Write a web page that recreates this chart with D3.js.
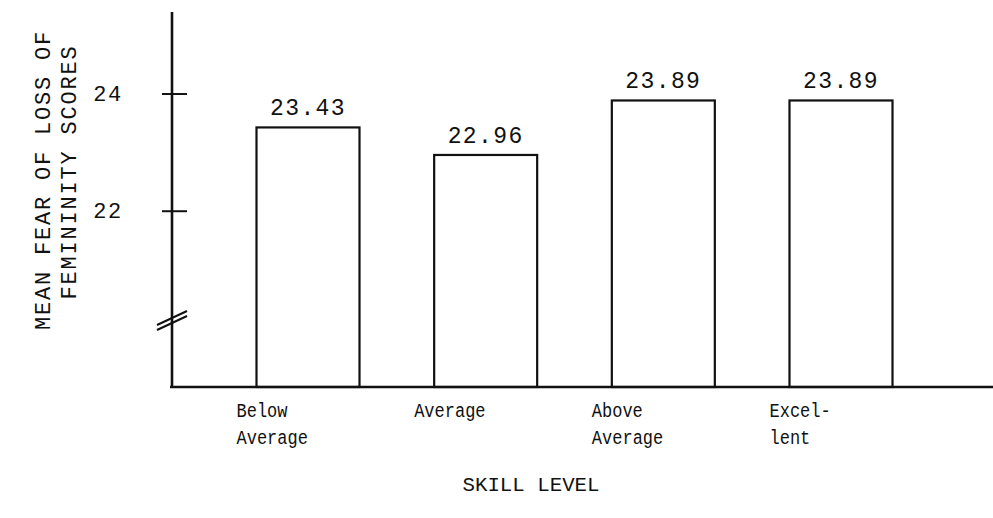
<!DOCTYPE html>
<html>
<head>
<meta charset="utf-8">
<script src="https://cdn.jsdelivr.net/npm/d3@7"></script>
<style>
  body { margin: 0; background: #fff; }
  svg { display: block; }
  .mono { font-family: "Liberation Mono", "DejaVu Sans Mono", monospace; fill: #111; }
</style>
</head>
<body>
<div id="chart"></div>
<script>
// data
const skillLevels = [["Below", "Average"], ["Average"], ["Above", "Average"], ["Excel-", "lent"]];
const meanScores = [23.43, 22.96, 23.89, 23.89];
const scoreLabels = ["23.43", "22.96", "23.89", "23.89"];
const yTicks = [22, 24];

const width = 993, height = 518;
const axisX = 172, baseY = 387, topY = 12;

const svg = d3.select("#chart").append("svg")
  .attr("width", width)
  .attr("height", height);

// y scale: baseline sits at ~19 (axis is broken below 22)
const y = d3.scaleLinear().domain([19, 25.4]).range([baseY, topY]);

const x = d3.scalePoint()
  .domain(d3.range(skillLevels.length))
  .range([308, 841]);
const barW = 103;

// bars
svg.append("g")
  .selectAll("rect")
  .data(meanScores)
  .enter()
  .append("rect")
  .attr("x", (d, i) => x(i) - barW / 2)
  .attr("y", d => y(d))
  .attr("width", barW)
  .attr("height", d => baseY - y(d))
  .attr("fill", "none")
  .attr("stroke", "#111")
  .attr("stroke-width", 2.2);

// value labels
svg.append("g")
  .selectAll("text")
  .data(meanScores)
  .enter()
  .append("text")
  .attr("class", "mono")
  .attr("x", (d, i) => x(i))
  .attr("y", d => y(d) - 12)
  .attr("text-anchor", "middle")
  .style("font-size", "23px")
  .style("letter-spacing", "1.4px")
  .text((d, i) => scoreLabels[i]);

// axes lines
svg.append("line")
  .attr("x1", axisX).attr("x2", axisX)
  .attr("y1", topY).attr("y2", baseY)
  .attr("stroke", "#111").attr("stroke-width", 2.6);
svg.append("line")
  .attr("x1", axisX - 2).attr("x2", width)
  .attr("y1", baseY).attr("y2", baseY)
  .attr("stroke", "#111").attr("stroke-width", 2.6);

// y ticks
const tickG = svg.append("g");
tickG.selectAll("line")
  .data(yTicks)
  .enter()
  .append("line")
  .attr("x1", axisX - 10).attr("x2", axisX + 15)
  .attr("y1", d => y(d)).attr("y2", d => y(d))
  .attr("stroke", "#111").attr("stroke-width", 2);
tickG.selectAll("text")
  .data(yTicks)
  .enter()
  .append("text")
  .attr("class", "mono")
  .attr("x", 108)
  .attr("y", d => y(d) + 7)
  .attr("text-anchor", "middle")
  .style("font-size", "22px")
  .style("letter-spacing", "1.5px")
  .text(d => d);

// axis break mark
const brk = svg.append("g").attr("stroke", "#111").attr("stroke-width", 2);
[0, 5].forEach(off => {
  brk.append("line")
    .attr("x1", 157).attr("y1", 330 - off)
    .attr("x2", 187).attr("y2", 316 - off);
});

// category labels (narrow typewriter face, squeezed to fit)
const cat = svg.append("g");
skillLevels.forEach((lines, i) => {
  lines.forEach((ln, j) => {
    cat.append("text")
      .attr("class", "mono")
      .attr("x", x(i) - barW / 2 - 20)
      .attr("y", 417 + j * 27)
      .attr("textLength", ln.length * 10.2)
      .attr("lengthAdjust", "spacingAndGlyphs")
      .style("font-size", "20px")
      .text(ln);
  });
});

// x title
svg.append("text")
  .attr("class", "mono")
  .attr("x", 531)
  .attr("y", 491)
  .attr("text-anchor", "middle")
  .attr("textLength", 137)
  .attr("lengthAdjust", "spacingAndGlyphs")
  .style("font-size", "20px")
  .text("SKILL LEVEL");

// y title (two lines)
svg.append("text")
  .attr("class", "mono")
  .attr("transform", "translate(50,180) rotate(-90)")
  .attr("text-anchor", "middle")
  .style("font-size", "22px")
  .style("letter-spacing", "1.8px")
  .text("MEAN FEAR OF LOSS OF");
svg.append("text")
  .attr("class", "mono")
  .attr("transform", "translate(76,172) rotate(-90)")
  .attr("text-anchor", "middle")
  .style("font-size", "22px")
  .style("letter-spacing", "1.8px")
  .text("FEMININITY SCORES");
</script>
</body>
</html>
